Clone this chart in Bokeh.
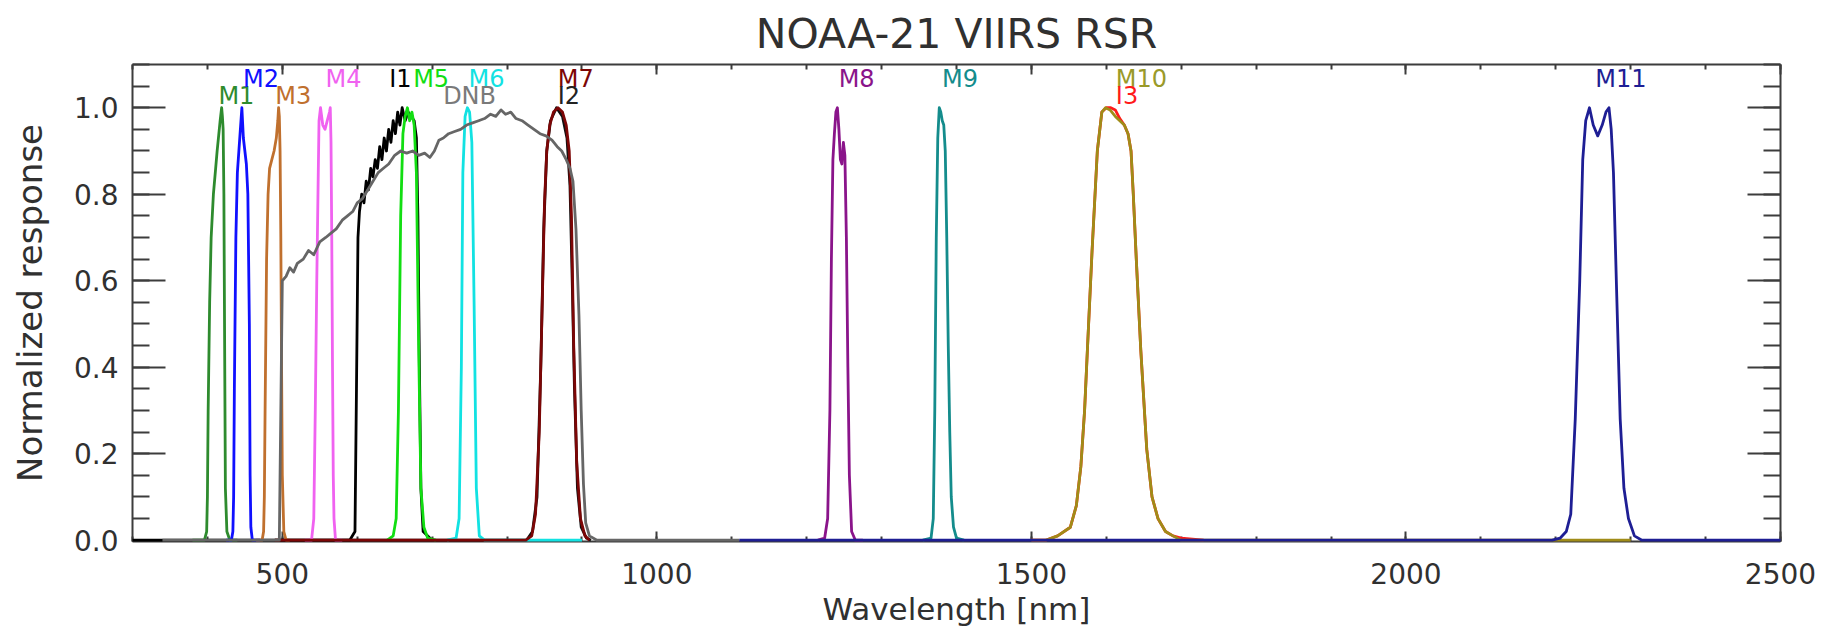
from bokeh.plotting import figure
from bokeh.models import ColumnDataSource, FixedTicker, LinearAxis, PrintfTickFormatter, Range1d
from bokeh.core.properties import value
from bokeh.embed import file_html
from bokeh.resources import INLINE

# ---------------- data ----------------
wl_I1 = [300, 590, 597, 599, 601, 603, 606, 609, 612, 615, 618, 621, 624, 627, 630, 633, 636, 639, 642,
         645, 648, 651, 654, 657, 660, 664, 668, 672, 676, 679, 681, 683, 685, 688, 700]
rsr_I1 = [0, 0, 0.02, 0.35, 0.70, 0.76, 0.80, 0.78, 0.83, 0.81, 0.86, 0.84, 0.88, 0.86, 0.91, 0.88, 0.93, 0.90, 0.95,
          0.92, 0.97, 0.94, 0.99, 0.96, 1.0, 0.97, 0.99, 0.98, 0.97, 0.93, 0.75, 0.40, 0.12, 0.02, 0]

wl_I2 = [490, 826, 834, 840, 845, 849, 853, 858, 866, 874, 880, 884, 887, 890, 894, 899, 906, 912]
rsr_I2 = [0, 0, 0.02, 0.10, 0.40, 0.72, 0.90, 0.97, 1.0, 0.98, 0.93, 0.82, 0.60, 0.35, 0.12, 0.03, 0.005, 0]

wl_M1 = [380, 396, 399, 400, 401, 403, 405, 408, 411, 413, 415, 417, 419, 420, 421, 422, 423, 424, 426, 430, 440]
rsr_M1 = [0, 0, 0.02, 0.10, 0.30, 0.55, 0.70, 0.80, 0.86, 0.90, 0.935, 0.97, 1.0, 0.98, 0.95, 0.80, 0.45, 0.12, 0.02, 0, 0]

wl_M2 = [425, 432, 434, 435, 436, 438, 440, 442, 444, 446, 448, 450, 452, 454, 456, 457, 458, 460, 470]
rsr_M2 = [0, 0, 0.02, 0.10, 0.35, 0.70, 0.85, 0.90, 0.95, 1.0, 0.93, 0.90, 0.87, 0.80, 0.50, 0.15, 0.03, 0, 0]

wl_M3 = [465, 473, 475, 476, 477, 479, 481, 483, 486, 489, 492, 494, 495, 496, 497, 498, 499, 500, 502, 505, 510]
rsr_M3 = [0, 0, 0.02, 0.10, 0.30, 0.65, 0.80, 0.86, 0.88, 0.90, 0.93, 0.97, 1.0, 0.98, 0.90, 0.70, 0.40, 0.15, 0.02, 0, 0]

wl_M4 = [530, 539, 542, 544, 546, 548, 549, 551, 554, 557, 560, 563, 564, 565, 566, 567, 568, 569, 571, 580]
rsr_M4 = [0, 0, 0.05, 0.30, 0.60, 0.85, 0.97, 1.0, 0.96, 0.95, 0.97, 0.99, 1.0, 0.92, 0.70, 0.40, 0.15, 0.05, 0, 0]

wl_M5 = [640, 648, 652, 655, 658, 661, 664, 667, 670, 673, 676, 679, 682, 685, 689, 694, 705]
rsr_M5 = [0, 0.01, 0.05, 0.30, 0.75, 0.94, 0.98, 1.0, 0.97, 0.99, 0.96, 0.85, 0.45, 0.12, 0.03, 0.005, 0]

wl_M6 = [720, 732, 736, 739, 741, 744, 747, 750, 753, 756, 759, 763, 770, 900]
rsr_M6 = [0, 0.005, 0.05, 0.40, 0.85, 0.98, 1.0, 0.99, 0.92, 0.55, 0.12, 0.01, 0, 0]

wl_M7 = [490, 825, 833, 838, 843, 847, 850, 853, 857, 862, 868, 874, 879, 883, 886, 889, 893, 898, 904, 910]
rsr_M7 = [0, 0, 0.01, 0.06, 0.25, 0.55, 0.78, 0.90, 0.96, 0.99, 1.0, 0.99, 0.96, 0.90, 0.75, 0.45, 0.18, 0.05, 0.01, 0]

wl_DNB = [340, 496, 498, 500, 505, 510, 515, 520, 528, 535, 542, 550, 558, 565, 572, 580, 587, 594, 600, 607,
          614, 621, 628, 635, 642, 650, 658, 666, 674, 682, 690, 697, 703, 709, 715, 722, 730, 738, 746, 754,
          762, 770, 778, 785, 792, 798, 805, 812, 820, 828, 836, 844, 852, 860, 867, 873, 879, 884, 888, 892,
          896, 899, 902, 905, 910, 920, 1110]
rsr_DNB = [0, 0, 0.30, 0.60, 0.61, 0.63, 0.62, 0.64, 0.65, 0.67, 0.66, 0.69, 0.70, 0.71, 0.72, 0.74, 0.75, 0.76, 0.78, 0.79,
           0.81, 0.83, 0.85, 0.86, 0.87, 0.89, 0.90, 0.895, 0.90, 0.89, 0.895, 0.885, 0.90, 0.925, 0.93, 0.94, 0.945, 0.95, 0.96, 0.965,
           0.97, 0.975, 0.985, 0.98, 0.995, 0.985, 0.99, 0.975, 0.97, 0.96, 0.95, 0.94, 0.935, 0.925, 0.91, 0.90, 0.88, 0.86, 0.83, 0.72,
           0.52, 0.30, 0.13, 0.04, 0.01, 0, 0]

wl_M8 = [1215, 1224, 1228, 1231, 1233, 1235, 1237, 1239, 1241, 1243, 1245, 1247, 1249, 1251, 1253, 1255, 1257, 1260, 1265, 1275]
rsr_M8 = [0, 0.005, 0.05, 0.30, 0.65, 0.88, 0.94, 0.99, 1.0, 0.95, 0.88, 0.87, 0.92, 0.89, 0.70, 0.40, 0.15, 0.02, 0, 0]

wl_M9 = [1355, 1366, 1369, 1371, 1373, 1375, 1377, 1379, 1381, 1383, 1385, 1387, 1389, 1391, 1393, 1396, 1400, 1410]
rsr_M9 = [0, 0.005, 0.05, 0.30, 0.70, 0.93, 1.0, 0.99, 0.97, 0.96, 0.90, 0.70, 0.45, 0.25, 0.10, 0.03, 0.005, 0]

wl_I3 = [1500, 1519, 1535, 1552, 1560, 1566, 1571, 1575, 1581, 1588, 1594, 1600, 1606, 1612, 1618, 1624, 1629, 1633,
         1636, 1640, 1646, 1654, 1661, 1669, 1679, 1689, 1700, 1730]
rsr_I3 = [0, 0, 0.01, 0.03, 0.08, 0.17, 0.30, 0.45, 0.67, 0.90, 0.99, 1.0, 1.0, 0.995, 0.975, 0.96, 0.94, 0.90,
          0.80, 0.65, 0.44, 0.21, 0.10, 0.05, 0.02, 0.01, 0.005, 0]

wl_M10 = [1500, 1519, 1535, 1552, 1560, 1566, 1571, 1575, 1581, 1588, 1594, 1599, 1605, 1612, 1618, 1624, 1629, 1633,
          1636, 1640, 1646, 1654, 1661, 1669, 1679, 1689, 1700, 2300]
rsr_M10 = [0, 0, 0.01, 0.03, 0.08, 0.17, 0.30, 0.45, 0.67, 0.90, 0.99, 1.0, 0.995, 0.98, 0.97, 0.96, 0.94, 0.90,
           0.80, 0.65, 0.44, 0.21, 0.10, 0.05, 0.02, 0.01, 0, 0]

wl_M11 = [1110, 2195, 2206, 2214, 2220, 2226, 2232, 2236, 2240, 2245, 2250, 2256, 2262, 2267, 2271, 2274, 2277, 2281,
          2286, 2291, 2297, 2305, 2315, 2500]
rsr_M11 = [0, 0, 0.005, 0.02, 0.06, 0.28, 0.60, 0.88, 0.97, 1.0, 0.96, 0.935, 0.96, 0.99, 1.0, 0.95, 0.85, 0.59,
           0.28, 0.12, 0.05, 0.01, 0, 0]

# band labels: name, nominal centre wavelength (nm), label row (1 = upper, 0 = lower)
label_names = ["M1", "M2", "M3", "M4", "I1", "M5", "M6", "DNB", "M7", "I2", "M8", "M9", "M10", "I3", "M11"]
label_wl = [412, 445, 488, 555, 640, 672, 746, 712, 865, 865, 1240, 1378, 1610, 1610, 2250]
label_row = [0, 1, 0, 1, 1, 1, 1, 0, 1, 0, 1, 1, 1, 0, 1]

x_tick_labels = [500, 1000, 1500, 2000, 2500]
y_tick_labels = [0.0, 0.2, 0.4, 0.6, 0.8, 1.0]

# ---------------- styles ----------------
colors = {
    "I1": "#000000", "I2": "#111111", "M1": "#2e8b2e", "M2": "#1010ff", "M3": "#c0702e",
    "M4": "#f062f0", "M5": "#12de12", "M6": "#12e2e2", "M7": "#7c0606", "DNB": "#666666",
    "M8": "#8a148a", "M9": "#148c8c", "I3": "#ff1a1a", "M10": "#a08c18", "M11": "#1e1e94",
}
label_colors_over = {"DNB": "#7a7a7a", "M10": "#9a9a2a", "I2": "#222222"}

series = [
    ("I1", wl_I1, rsr_I1), ("I2", wl_I2, rsr_I2),
    ("M1", wl_M1, rsr_M1), ("M2", wl_M2, rsr_M2), ("M3", wl_M3, rsr_M3), ("M4", wl_M4, rsr_M4),
    ("M5", wl_M5, rsr_M5), ("M6", wl_M6, rsr_M6), ("M7", wl_M7, rsr_M7),
    ("DNB", wl_DNB, rsr_DNB),
    ("M8", wl_M8, rsr_M8), ("M9", wl_M9, rsr_M9),
    ("I3", wl_I3, rsr_I3), ("M10", wl_M10, rsr_M10), ("M11", wl_M11, rsr_M11),
]

FONT = "DejaVu Sans"
AX = "#3c3c3c"
TXT = "#303030"

p = figure(width=1821, height=637,
           x_range=Range1d(300, 2500), y_range=Range1d(-0.003, 1.1),
           output_backend="svg", toolbar_location=None,
           min_border_left=132, min_border_right=41, min_border_top=63, min_border_bottom=96)
p.xgrid.visible = False
p.ygrid.visible = False
p.outline_line_color = None
p.background_fill_color = "white"
p.border_fill_color = "white"

for name, wl, r in series:
    p.line(wl, r, line_color=colors[name], line_width=2.8, line_join="round", level="overlay")

lab_src = ColumnDataSource(dict(
    x=label_wl,
    y=[1.0275 + 0.039 * row for row in label_row],
    text=label_names,
    color=[label_colors_over.get(n, colors[n]) for n in label_names],
))
p.text(x="x", y="y", text="text", source=lab_src, text_color="color",
       text_font=value(FONT), text_font_size="24px", text_align="left",
       text_baseline="middle", x_offset=2, level="overlay")

x_minor = list(range(300, 2501, 100))
y_minor = [i * 0.05 for i in range(23)]


def style_axis(ax, major_in, minor_in, labels):
    ax.axis_line_color = AX
    ax.axis_line_width = 2
    ax.major_tick_line_color = AX
    ax.major_tick_line_width = 2
    ax.minor_tick_line_color = AX
    ax.minor_tick_line_width = 2
    ax.major_tick_in = major_in
    ax.major_tick_out = 0
    ax.minor_tick_in = minor_in
    ax.minor_tick_out = 0
    ax.major_label_text_font = FONT
    ax.major_label_text_color = TXT
    ax.axis_label_text_font = FONT
    ax.axis_label_text_font_style = "normal"
    ax.axis_label_text_color = TXT
    if not labels:
        ax.major_label_text_alpha = 0
        ax.major_label_text_font_size = "1px"
        ax.major_label_standoff = 0


xb = p.xaxis[0]
yl = p.yaxis[0]
xb.ticker = FixedTicker(ticks=x_tick_labels, minor_ticks=x_minor)
yl.ticker = FixedTicker(ticks=y_tick_labels, minor_ticks=y_minor)
yl.formatter = PrintfTickFormatter(format="%.1f")
style_axis(xb, 10, 5, True)
style_axis(yl, 33, 17, True)
xb.major_label_text_font_size = "28px"
yl.major_label_text_font_size = "28px"
xb.major_label_standoff = 21
yl.major_label_standoff = 14
xb.axis_label = "Wavelength [nm]"
yl.axis_label = "Normalized response"
xb.axis_label_text_font_size = "31px"
yl.axis_label_text_font_size = "34px"
xb.axis_label_standoff = 4
yl.axis_label_standoff = 21

xt = LinearAxis(ticker=FixedTicker(ticks=x_tick_labels, minor_ticks=x_minor))
style_axis(xt, 10, 5, False)
xt.major_label_overrides = {t: "" for t in x_tick_labels}
p.add_layout(xt, "above")
yr = LinearAxis(ticker=FixedTicker(ticks=y_tick_labels, minor_ticks=y_minor))
style_axis(yr, 33, 17, False)
yr.major_label_overrides = {t: "" for t in y_tick_labels}
p.add_layout(yr, "right")

p.title.text = "NOAA-21 VIIRS RSR"
p.title.align = "center"
p.title.text_font = FONT
p.title.text_font_size = "41px"
p.title.text_font_style = "normal"
p.title.text_color = TXT
p.title.standoff = 14

open("out.html", "w").write(file_html(p, INLINE))
